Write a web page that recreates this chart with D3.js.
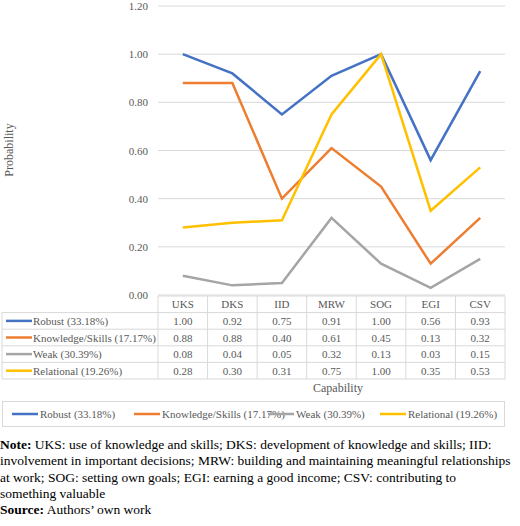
<!DOCTYPE html>
<html><head><meta charset="utf-8">
<script src="https://cdn.jsdelivr.net/npm/d3@7"></script>
<style>body{margin:0;background:#fff}svg,svg text{font-family:"Times New Roman","Liberation Serif","DejaVu Serif",serif}</style>
</head><body><svg id="c" width="520" height="526"></svg>
<script>
const categories=["UKS","DKS","IID","MRW","SOG","EGI","CSV"];
const seriesNames=["Robust (33.18%)","Knowledge/Skills (17.17%)","Weak (30.39%)","Relational (19.26%)"];
const robust=[1.00,0.92,0.75,0.91,1.00,0.56,0.93];
const knowledge=[0.88,0.88,0.40,0.61,0.45,0.13,0.32];
const weak=[0.08,0.04,0.05,0.32,0.13,0.03,0.15];
const relational=[0.28,0.30,0.31,0.75,1.00,0.35,0.53];
const colors=["#4472C4","#ED7D31","#A5A5A5","#FFC000"];
const yTicks=[0,0.2,0.4,0.6,0.8,1.0,1.2];
const series=[robust,knowledge,weak,relational];

const svg=d3.select("#c");
const L=158,R=505,T=6,B=295;
const x=d3.scaleBand().domain(categories).range([L,R]);
const y=d3.scaleLinear().domain([0,1.2]).range([B,T]);
const g=svg.append("g");
yTicks.forEach(t=>{
  g.append("line").attr("x1",L).attr("x2",R).attr("y1",y(t)).attr("y2",y(t)).attr("stroke","#d9d9d9");
  g.append("text").attr("x",L-10).attr("y",y(t)+4).attr("text-anchor","end").attr("font-size",11).attr("fill","#595959").text(t.toFixed(2));
});
svg.append("text").attr("transform","translate(13,150) rotate(-90)").attr("text-anchor","middle").attr("font-size",12).attr("fill","#595959").text("Probability");
const line=d3.line().x((d,i)=>x(categories[i])+x.bandwidth()/2).y(d=>y(d));
series.forEach((s,k)=>g.append("path").attr("d",line(s)).attr("fill","none").attr("stroke",colors[k]).attr("stroke-width",2.5));

const rowH=16.6, tTop=296, tLeft=2;
const tg=svg.append("g");
const rows=5;
for(let r=0;r<=rows;r++){
  const yy=tTop+r*rowH;
  tg.append("line").attr("x1",r==0?L:tLeft).attr("x2",R).attr("y1",yy).attr("y2",yy).attr("stroke","#d9d9d9");
}
tg.append("line").attr("x1",tLeft).attr("x2",tLeft).attr("y1",tTop+rowH).attr("y2",tTop+rows*rowH).attr("stroke","#d9d9d9");
categories.forEach((c,i)=>{
  tg.append("line").attr("x1",x(c)).attr("x2",x(c)).attr("y1",tTop).attr("y2",tTop+rows*rowH).attr("stroke","#d9d9d9");
  tg.append("text").attr("x",x(c)+x.bandwidth()/2).attr("y",tTop+rowH/2+4).attr("text-anchor","middle").attr("font-size",11).attr("fill","#595959").text(c);
});
tg.append("line").attr("x1",R).attr("x2",R).attr("y1",tTop).attr("y2",tTop+rows*rowH).attr("stroke","#d9d9d9");
series.forEach((s,k)=>{
  const cy=tTop+(k+1)*rowH+rowH/2;
  tg.append("line").attr("x1",6).attr("x2",32).attr("y1",cy).attr("y2",cy).attr("stroke",colors[k]).attr("stroke-width",2.5);
  tg.append("text").attr("x",33).attr("y",cy+4).attr("font-size",11).attr("fill","#595959").text(seriesNames[k]);
  s.forEach((v,i)=>tg.append("text").attr("x",x(categories[i])+x.bandwidth()/2).attr("y",cy+4).attr("text-anchor","middle").attr("font-size",11).attr("fill","#595959").text(v.toFixed(2)));
});
svg.append("text").attr("x",338).attr("y",392).attr("text-anchor","middle").attr("font-size",12).attr("fill","#595959").text("Capability");

svg.append("rect").attr("x",2.5).attr("y",401.5).attr("width",502).attr("height",25).attr("fill","none").attr("stroke","#d9d9d9");
const lx=[12,134,268,380];
seriesNames.forEach((n,k)=>{
  svg.append("line").attr("x1",lx[k]).attr("x2",lx[k]+26).attr("y1",414).attr("y2",414).attr("stroke",colors[k]).attr("stroke-width",2.5);
  svg.append("text").attr("x",lx[k]+28).attr("y",418).attr("font-size",11).attr("fill","#595959").text(n);
});

const notes=[
 [["Note:",true],[" UKS: use of knowledge and skills; DKS: development of knowledge and skills; IID:",false]],
 [["involvement in important decisions; MRW: building and maintaining meaningful relationships",false]],
 [["at work; SOG: setting own goals; EGI: earning a good income; CSV: contributing to",false]],
 [["something valuable",false]],
 [["Source:",true],[" Authors’ own work",false]]
];
notes.forEach((ln,i)=>{
  const t=svg.append("text").attr("x",0).attr("y",449+i*16.3).attr("font-size",13.5).attr("fill","#000");
  ln.forEach(([s,b])=>t.append("tspan").attr("font-weight",b?"bold":"normal").text(s));
});
</script></body></html>
